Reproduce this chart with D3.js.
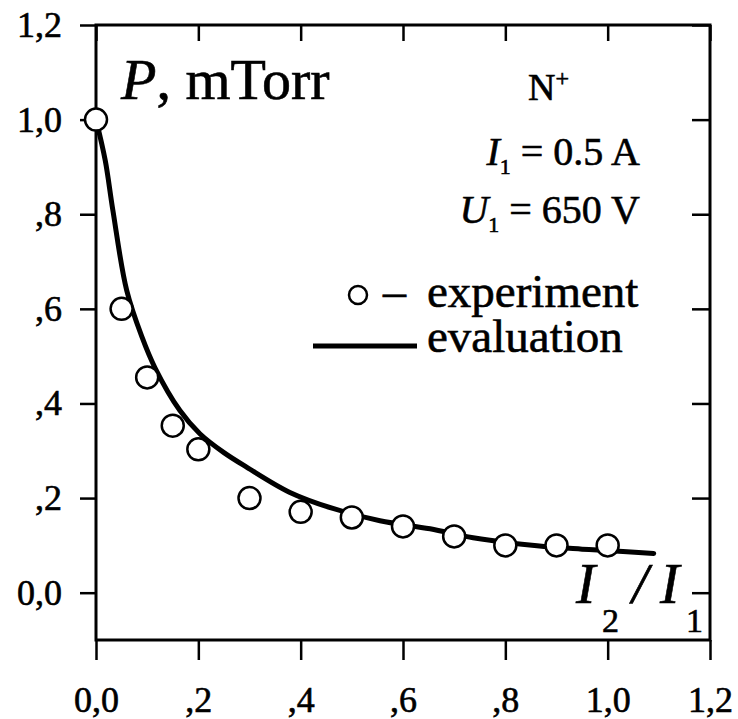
<!DOCTYPE html>
<html>
<head>
<meta charset="utf-8">
<script src="https://cdn.jsdelivr.net/npm/d3@7"></script>
<style>
  body { margin: 0; background: #fff; }
  svg { display: block; }
  text { font-family: "Liberation Serif", "DejaVu Serif", serif; fill: #000; stroke: #000; stroke-width: 0.6px; }
</style>
</head>
<body>
<div id="chart"></div>
<script>
// experiment points (I2/I1 vs P, mTorr)
const expX = [0, 0.05, 0.10, 0.15, 0.20, 0.30, 0.40, 0.50, 0.60, 0.70, 0.80, 0.90, 1.00];
const expY = [1.0, 0.60, 0.455, 0.353, 0.303, 0.20, 0.171, 0.159, 0.14, 0.119, 0.10, 0.10, 0.10];

// evaluation curve
const evalX = [0, 0.018, 0.033, 0.06, 0.09, 0.115, 0.164, 0.203, 0.25, 0.295, 0.379, 0.463, 0.555, 0.653, 0.737, 0.862, 0.95, 1.03, 1.09];
const evalY = [1.0, 0.914, 0.808, 0.639, 0.54, 0.476, 0.385, 0.336, 0.296, 0.265, 0.212, 0.178, 0.152, 0.135, 0.116, 0.099, 0.092, 0.087, 0.083];

const tickVals = [0, 0.2, 0.4, 0.6, 0.8, 1.0, 1.2];
const tickLabels = ["0,0", ",2", ",4", ",6", ",8", "1,0", "1,2"];

const W = 738, H = 719;
const svg = d3.select("#chart").append("svg")
  .attr("width", W).attr("height", H);

// scales
const x = d3.scaleLinear().domain([0, 1.2]).range([96, 710]);
const y = d3.scaleLinear().domain([-0.1, 1.2]).range([640, 25]);

const fmt = function(d) { return tickLabels[tickVals.indexOf(d)]; };

// left axis, ticks outward
const gl = svg.append("g")
  .attr("transform", "translate(96,0)")
  .call(d3.axisLeft(y).tickValues(tickVals).tickSize(16).tickSizeOuter(0).tickPadding(18).tickFormat(fmt));

// bottom axis, ticks outward
const gb = svg.append("g")
  .attr("transform", "translate(0,640)")
  .call(d3.axisBottom(x).tickValues(tickVals).tickSize(20).tickSizeOuter(0).tickPadding(26).tickFormat(fmt));

// top and right, inward ticks only
const gt = svg.append("g")
  .attr("transform", "translate(0," + y(1.2) + ")")
  .call(d3.axisBottom(x).tickValues(tickVals).tickSize(16).tickSizeOuter(0).tickFormat(""));
const gr = svg.append("g")
  .attr("transform", "translate(" + x(1.2) + ",0)")
  .call(d3.axisLeft(y).tickValues(tickVals).tickSize(18).tickSizeOuter(0).tickFormat(""));

[gl, gb, gt, gr].forEach(function(g) {
  g.select(".domain").remove();
  g.selectAll(".tick line").attr("stroke", "#000").attr("stroke-width", 2.5);
  g.selectAll(".tick text").style("font-size", "36px").attr("fill", "#000");
});

// frame
svg.append("rect")
  .attr("x", x(0)).attr("y", y(1.2))
  .attr("width", x(1.2) - x(0)).attr("height", y(-0.1) - y(1.2))
  .attr("fill", "none").attr("stroke", "#000").attr("stroke-width", 3);

// evaluation curve
const curveData = evalX.map(function(v, i) { return [v, evalY[i]]; });
svg.append("path")
  .datum(curveData)
  .attr("fill", "none")
  .attr("stroke", "#000")
  .attr("stroke-width", 5)
  .attr("stroke-linecap", "round")
  .attr("d", d3.line()
    .x(function(d) { return x(d[0]); })
    .y(function(d) { return y(d[1]); })
    .curve(d3.curveCatmullRom));

// experiment circles
const expData = expX.map(function(v, i) { return [v, expY[i]]; });
svg.append("g")
  .selectAll("circle")
  .data(expData)
  .enter()
  .append("circle")
    .attr("cx", function(d) { return x(d[0]); })
    .attr("cy", function(d) { return y(d[1]); })
    .attr("r", 11)
    .attr("fill", "#fff")
    .attr("stroke", "#000")
    .attr("stroke-width", 2.5);

// axis title P, mTorr
const pt = svg.append("text").attr("x", 121).attr("y", 99).style("font-size", "58px");
pt.append("tspan").style("font-style", "italic").text("P");
pt.append("tspan").text(", mTorr");

// parameters
const n = svg.append("text").attr("x", 528).attr("y", 100).style("font-size", "38px");
n.append("tspan").text("N");
n.append("tspan").attr("dy", -14).style("font-size", "24px").text("+");

const i1 = svg.append("text").attr("x", 640).attr("y", 165).attr("text-anchor", "end").style("font-size", "40px");
i1.append("tspan").style("font-style", "italic").text("I");
i1.append("tspan").attr("dy", 9).style("font-size", "22px").text("1");
i1.append("tspan").attr("dy", -9).text(" = 0.5 A");

const u1 = svg.append("text").attr("x", 640).attr("y", 223).attr("text-anchor", "end").style("font-size", "40px");
u1.append("tspan").style("font-style", "italic").text("U");
u1.append("tspan").attr("dy", 9).style("font-size", "22px").text("1");
u1.append("tspan").attr("dy", -9).text(" = 650 V");

// legend
svg.append("circle").attr("cx", 358).attr("cy", 295).attr("r", 9)
  .attr("fill", "#fff").attr("stroke", "#000").attr("stroke-width", 2.5);
svg.append("text").attr("x", 383).attr("y", 307).style("font-size", "46px").text("–");
svg.append("text").attr("x", 427).attr("y", 307).style("font-size", "47px").text("experiment");
svg.append("line").attr("x1", 313).attr("x2", 417).attr("y1", 346).attr("y2", 346)
  .attr("stroke", "#000").attr("stroke-width", 5);
svg.append("text").attr("x", 427).attr("y", 352).style("font-size", "47px").text("evaluation");

// x axis title I2 / I1
const xt = svg.append("g").style("font-size", "58px");
xt.append("text").attr("x", 576).attr("y", 603).style("font-style", "italic").text("I");
xt.append("text").attr("x", 602).attr("y", 632).style("font-size", "34px").text("2");
xt.append("text").attr("x", 632).attr("y", 603).style("font-style", "italic").text("/");
xt.append("text").attr("x", 660).attr("y", 603).style("font-style", "italic").text("I");
xt.append("text").attr("x", 686).attr("y", 632).style("font-size", "34px").text("1");
</script>
</body>
</html>
